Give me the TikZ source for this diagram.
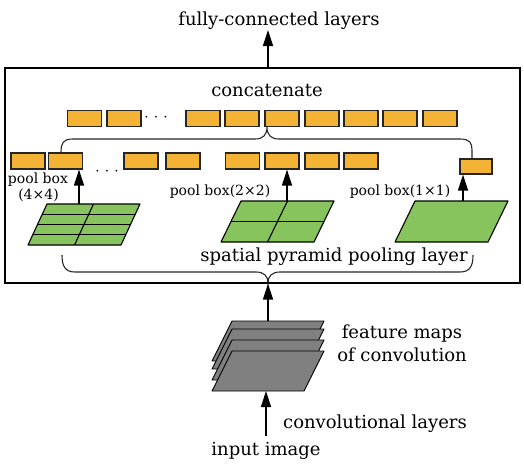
\documentclass[tikz,border=0pt]{standalone}
\usepackage{fontspec}
\setmainfont{DejaVu Serif}
\usetikzlibrary{arrows.meta,calc}

\definecolor{binorange}{HTML}{F5B335}
\definecolor{mapgreen}{HTML}{88C45E}
\definecolor{fmgray}{HTML}{808080}
\definecolor{edge}{HTML}{262626}

\newcommand{\dotrow}{$\mathord{\cdot}\mkern5mu\mathord{\cdot}\mkern5mu\mathord{\cdot}$}

\tikzset{
  bin/.style={draw=edge, fill=binorange, line width=1.2pt, minimum width=34pt,
              minimum height=16pt, inner sep=0pt},
  grid map/.style={draw=black, fill=mapgreen, line width=1.1pt, line join=round},
  fm sheet/.style={draw=black, fill=fmgray, line width=0.9pt, line join=round},
  gridline/.style={draw=black, line width=1.1pt},
  up arrow/.style={-{Triangle[width=10pt,length=16pt]}, line width=1.4pt},
  curly/.style={draw=edge, line width=1.1pt},
  dots/.style={inner sep=0pt, font=\fontsize{18}{20}\selectfont},
  big label/.style={font=\fontsize{18}{20}\selectfont, inner sep=0pt, anchor=base},
  small label/.style={font=\fontsize{14}{16}\selectfont, inner sep=0pt, anchor=base},
}

\begin{document}
\begin{tikzpicture}[x=1pt, y=-1pt]
\useasboundingbox (0,0) rectangle (524,464);

% frame around the pooling stage
\node[draw=black, line width=1.2pt, minimum width=515pt, minimum height=215pt,
      inner sep=0pt] (frame) at (262.5,175.5) {};

% labels
\node[big label] (fc) at (279,25) {fully-connected layers};
\node[big label] (concat) at (267,96) {concatenate};
\node[big label] (spp) at (334,261) {spatial pyramid pooling layer};
\node[big label] (fm1) at (402,338) {feature maps};
\node[big label] (fm2) at (402,361) {of convolution};
\node[big label] (conv) at (375,428) {convolutional layers};
\node[big label] (input) at (266,455) {input image};
\node[small label] (pb4a) at (38,183) {pool box};
\node[small label] (pb4b) at (38.5,199) {(4×4)};
\node[small label] (pb2) at (220,195) {pool box(2×2)};
\node[small label] (pb1) at (400,195) {pool box(1×1)};

% concatenated vector
\foreach \i/\x in {1/84.5, 2/124, 3/203, 4/242, 5/282, 6/322, 7/361, 8/400, 9/440}
  \node[bin] (c\i) at (\x,118.7) {};
\node[dots] (cdots) at (156,117.5) {\dotrow};

% pooled bins
\foreach \i/\x in {1/28, 2/65.5, 3/141, 4/183, 5/242.5, 6/282, 7/322, 8/361}
  \node[bin] (p\i) at (\x,161) {};
\node[bin, minimum width=32pt, minimum height=15pt] (p9) at (476,166.5) {};
\node[dots] (pdots) at (107,171.5) {\dotrow};

% 4x4 pooling grid
\coordinate (la) at (47,204);  \coordinate (lb) at (140,204);
\coordinate (lc) at (121,245); \coordinate (ld) at (28,245);
\path[grid map] (la) -- (lb) -- (lc) -- (ld) -- cycle;
\foreach \t in {0.25,0.5,0.75}
  \draw[gridline] ($(la)!\t!(ld)$) -- ($(lb)!\t!(lc)$);
\draw[gridline] ($(la)!0.5!(lb)$) -- ($(ld)!0.5!(lc)$);
\coordinate (ltop) at (79,204);

% 2x2 pooling grid
\coordinate (ma) at (241,201); \coordinate (mb) at (334,201);
\coordinate (mc) at (314,242); \coordinate (md) at (221,242);
\path[grid map] (ma) -- (mb) -- (mc) -- (md) -- cycle;
\draw[gridline] ($(ma)!0.5!(md)$) -- ($(mb)!0.5!(mc)$);
\draw[gridline] ($(ma)!0.5!(mb)$) -- ($(md)!0.5!(mc)$);
\coordinate (mtop) at (287,201);

% 1x1 pooling grid
\coordinate (ra) at (415,201); \coordinate (rb) at (508,201);
\coordinate (rc) at (488,242); \coordinate (rd) at (395,242);
\path[grid map] (ra) -- (rb) -- (rc) -- (rd) -- cycle;
\coordinate (rtop) at (463,201);

% stacked feature maps
\foreach \dy in {30,22,11,0}
  \path[fm sheet] (232,351-\dy) -- (324,351-\dy) -- (304,391-\dy) -- (212,391-\dy) -- cycle;
\coordinate (fmtop) at (268,321);
\coordinate (fmbot) at (266,391);
\coordinate (instart) at (266,436);

% braces
\path[curly] (p2.north -| 61,0) .. controls (61,143) and (63,139) .. (73,139)
  -- (255,139) .. controls (263,139) and (267,135) .. (267,127)
  .. controls (267,135) and (271,139) .. (279,139)
  -- (460,139) .. controls (470,139) and (472,143) .. (472,150) -- (p9.north -| 472,0);
\path[curly] (62,255) .. controls (62,266) and (65,272) .. (75,272)
  -- (256,272) .. controls (264,272) and (268,276) .. (268,283)
  .. controls (268,276) and (272,272) .. (280,272)
  -- (460,272) .. controls (470,272) and (473,266) .. (473,255);

% arrows
\draw[up arrow] (ltop) -- (ltop |- p2.south);
\draw[up arrow] (mtop) -- (mtop |- p6.south);
\draw[up arrow] (rtop) -- (rtop |- p9.south);
\draw[up arrow] (fmtop) -- (fmtop |- frame.south);
\draw[up arrow] (instart) -- (fmbot);
\draw[up arrow] (frame.north -| 268,0) -- (268,30);
\end{tikzpicture}
\end{document}
